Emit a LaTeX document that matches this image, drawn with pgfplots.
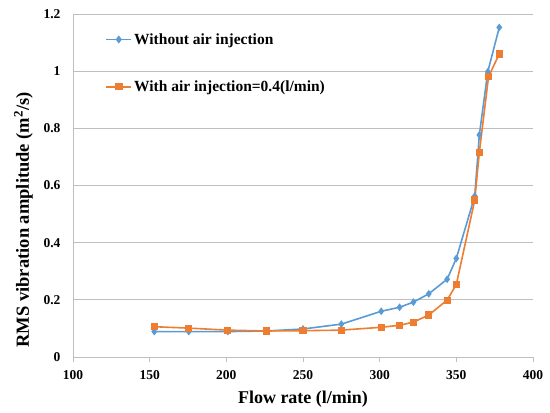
\documentclass[border=0pt]{standalone}
\usepackage{fontspec}
\setmainfont{Liberation Serif}
\usepackage{pgfplots}
\pgfplotsset{compat=1.18}

\definecolor{seriesblue}{RGB}{91,155,213}
\definecolor{seriesorange}{RGB}{237,125,49}
\definecolor{gridgray}{RGB}{190,190,190}

\begin{document}
\begin{tikzpicture}[x=1pt,y=1pt]
\begin{axis}[
  name=ax,
  at={(0,0)}, anchor=south west,
  scale only axis,
  width=460pt, height=343pt,
  xmin=100, xmax=400, ymin=0, ymax=1.2,
  xtick={100,150,...,400},
  ytick={0,0.2,...,1.2},
  yticklabels={0,0.2,0.4,0.6,0.8,1,1.2},
  axis x line=bottom, axis y line=left,
  axis line style={-, draw=gridgray, line width=0.8pt},
  x tick style={draw=gridgray, line width=0.8pt},
  xtick pos=bottom, tick align=outside,
  major tick length=5pt,
  y tick style={draw=none},
  ymajorgrids,
  grid style={draw=gridgray, line width=0.8pt},
  /pgf/number format/assume math mode=true,
  tick label style={font=\fontsize{13.5}{15}\selectfont\bfseries},
  xticklabel style={yshift=-5pt},
  yticklabel style={xshift=-4pt},
  xlabel={Flow rate (l/min)},
  ylabel={RMS vibration amplitude (m\textsuperscript{2}/s)},
  label style={font=\fontsize{18}{20}\selectfont\bfseries},
  xlabel style={yshift=-4pt},
  ylabel style={at={(ticklabel cs:0.40)}, yshift=4pt,
    font=\fontsize{18.5}{20}\selectfont\bfseries},
  legend style={draw=none, fill=none, at={(0.07,0.95)}, anchor=north west,
    font=\fontsize{15.5}{17}\selectfont\bfseries, row sep=31pt,
    inner sep=0pt},
  legend cell align=left,
  legend image code/.code={\draw[line width=1.8pt,mark repeat=2,mark phase=2]
    plot coordinates {(0pt,0pt) (12.5pt,0pt) (25pt,0pt)};},
]
\addplot[color=seriesblue, line width=1.6pt, mark=diamond*, mark size=2.6pt,
  mark options={solid}] coordinates {
  (153,0.089) (175.5,0.089) (201,0.089) (226,0.091) (250,0.098)
  (275,0.115) (301,0.160) (313,0.174) (322,0.192) (332,0.221)
  (344,0.272) (350,0.345) (362,0.563) (365,0.777) (370.5,0.998)
  (378,1.153)
};
\addlegendentry{Without air injection}
\addplot[color=seriesorange, line width=1.6pt, mark=square*, mark size=2.8pt,
  mark options={solid}] coordinates {
  (153,0.106) (175.5,0.101) (201,0.094) (226,0.091) (250,0.092)
  (275,0.094) (301,0.104) (313,0.111) (322,0.122) (332,0.147)
  (344,0.199) (350,0.254) (362,0.549) (365,0.716) (371,0.981)
  (378,1.060)
};
\addlegendentry{With air injection=0.4(l/min)}
\end{axis}
\pgfresetboundingbox
\path[use as bounding box] ([shift={(-73pt,-55pt)}]ax.south west)
  rectangle ([shift={(17pt,14pt)}]ax.north east);
\end{tikzpicture}
\end{document}
